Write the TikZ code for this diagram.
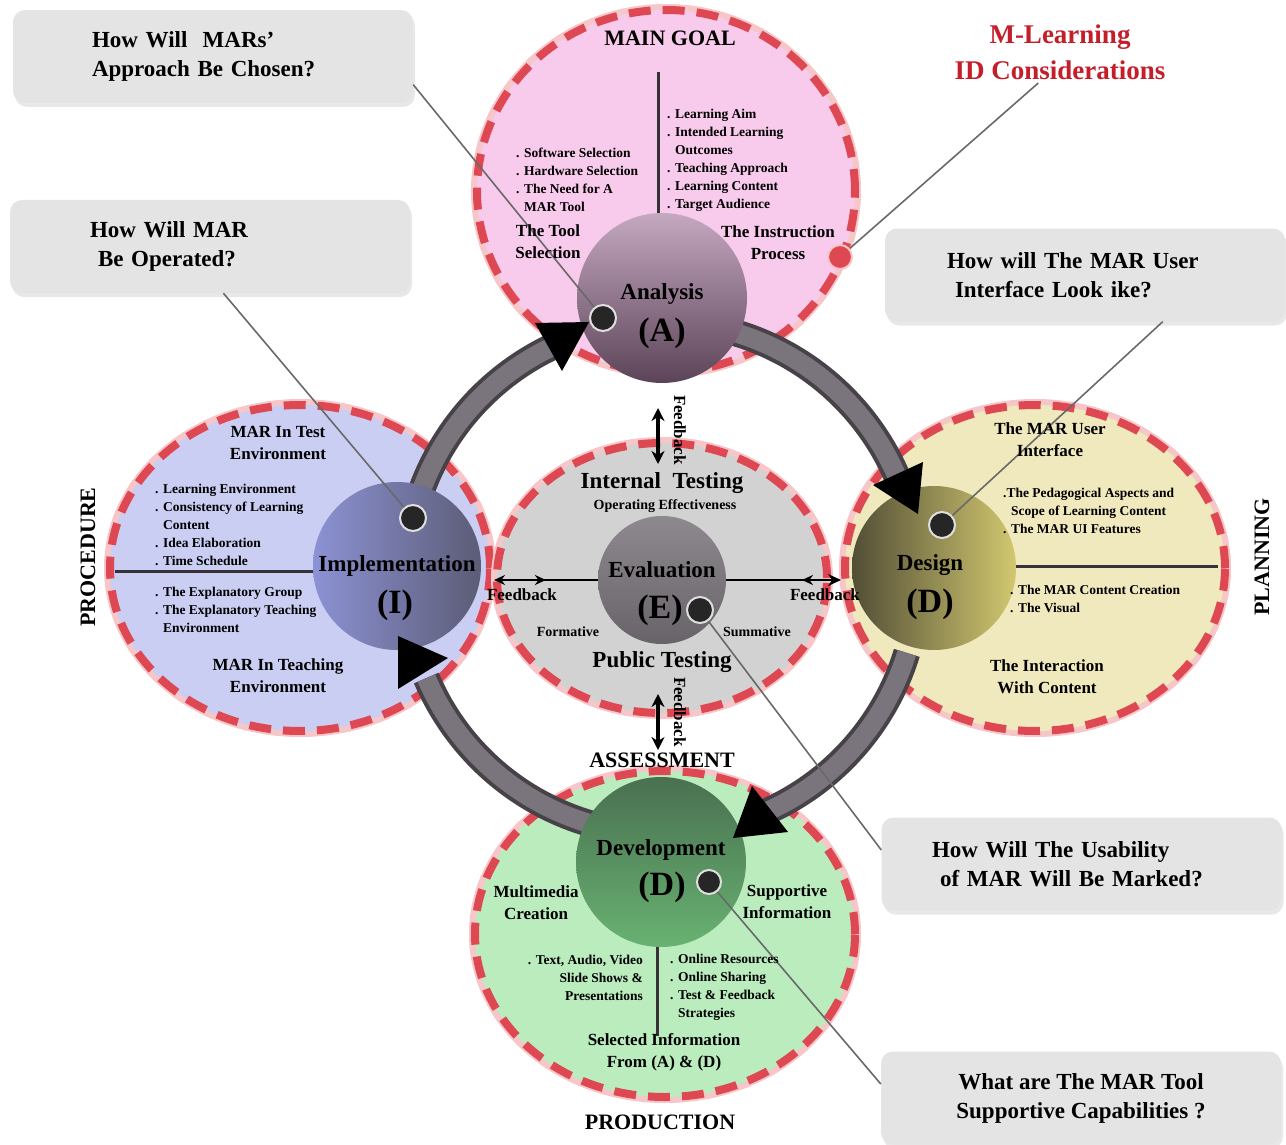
\documentclass[tikz,border=0pt]{standalone}
\usepackage{fontspec}
\setmainfont{Liberation Serif}
\usetikzlibrary{shapes.geometric,arrows.meta,shadows,decorations.markings}

\definecolor{pinkbg}{RGB}{248,202,236}
\definecolor{lilacbg}{RGB}{202,206,242}
\definecolor{sandbg}{RGB}{241,233,190}
\definecolor{mintbg}{RGB}{186,236,190}
\definecolor{greybg}{RGB}{210,210,210}
\definecolor{ringred}{RGB}{222,72,82}
\definecolor{ringpale}{RGB}{246,198,200}
\definecolor{loopgrey}{RGB}{122,116,124}
\definecolor{loopdark}{RGB}{70,66,72}
\definecolor{boxgrey}{RGB}{228,228,228}
\definecolor{titlered}{RGB}{196,30,42}
\definecolor{leadgrey}{RGB}{105,105,105}
\definecolor{divgrey}{RGB}{55,50,55}

\newcommand{\askfont}{\fontsize{23}{29}\selectfont\bfseries}
\newcommand{\headfont}{\fontsize{22}{26}\selectfont\bfseries}
\newcommand{\corefont}{\fontsize{23}{27}\selectfont\bfseries}
\newcommand{\letterfont}{\fontsize{34}{36}\selectfont\bfseries}
\newcommand{\subfont}{\fontsize{17}{22}\selectfont\bfseries}
\newcommand{\listfont}{\fontsize{13.5}{18}\selectfont\bfseries}
\newcommand{\smallfont}{\fontsize{14}{17}\selectfont\bfseries}
\newcommand{\fbfont}{\fontsize{17}{20}\selectfont\bfseries}
\newcommand{\ind}{\hspace*{8pt}}

\tikzstyle{phase} = [ellipse, inner sep=0, draw=ringred, line width=8pt, dash pattern=on 22pt off 12pt, preaction={draw=ringpale, line width=12pt, solid}]
\tikzstyle{core} = [circle, inner sep=0, minimum size=170pt]
\tikzstyle{dot} = [circle, inner sep=0, minimum size=26pt, fill=black!85, draw=white!75!gray, line width=2pt]
\tikzstyle{ask} = [rectangle, rounded corners=12pt, fill=boxgrey, minimum width=400pt, minimum height=93pt, drop shadow={opacity=.18, shadow xshift=2pt, shadow yshift=-4pt}, font=\askfont]
\tikzstyle{lead} = [draw=leadgrey, line width=1.6pt]
\tikzstyle{divider} = [draw=divgrey, line width=3pt]
\tikzstyle{loop} = [draw=loopdark, line width=27pt, postaction={draw=loopgrey, line width=19pt}]
\tikzstyle{fback} = [line width=3.5pt, {Stealth[length=13pt,width=13pt]}-{Stealth[length=13pt,width=13pt]}]
\tikzstyle{fbline} = [line width=2.5pt]
\tikzstyle{head} = [font=\headfont]
\tikzstyle{sub} = [font=\subfont, align=center]
\tikzstyle{items} = [font=\listfont, align=left, anchor=west, inner sep=0]

\begin{document}
\begin{tikzpicture}[x=1pt,y=-1pt]
	\useasboundingbox (0,0) rectangle (1286,1145);
	% phases
	\node[phase, fill=pinkbg, minimum width=378pt, minimum height=362pt] (anaOut) at (666,191) {};
	\node[phase, fill=lilacbg, minimum width=380pt, minimum height=326pt] (impOut) at (300,568) {};
	\node[phase, fill=sandbg, minimum width=380pt, minimum height=326pt] (desOut) at (1035,568) {};
	\node[phase, fill=mintbg, minimum width=380pt, minimum height=326pt] (devOut) at (665,934) {};
	\node[phase, fill=greybg, minimum width=330pt, minimum height=270pt] (evaOut) at (662,578) {};

	\draw[divider] (658,72) -- (658,216);
	\draw[divider] (115,571) -- (330,571);
	\draw[divider] (1010,566) -- (1218,566);
	\draw[divider] (657,936) -- (657,1036);

	% the cycle
	\draw[loop] (662,578) ++(-74:256) arc[start angle=-74, end angle=-20, radius=256];
	\draw[loop] (662,578) ++(17:256) arc[start angle=17, end angle=66, radius=256];
	\draw[loop] (662,578) ++(106:256) arc[start angle=106, end angle=157, radius=256];
	\draw[loop] (662,578) ++(200:256) arc[start angle=200, end angle=246, radius=256];

	\node[core, top color={rgb,255:red,196;green,168;blue,192}, bottom color={rgb,255:red,92;green,68;blue,88}] (ana) at (662,298) {};
	\node[core, minimum size=168pt, left color={rgb,255:red,140;green,146;blue,212}, right color={rgb,255:red,92;green,92;blue,118}] (imp) at (397,566) {};
	\node[core, minimum size=164pt, left color={rgb,255:red,82;green,78;blue,54}, right color={rgb,255:red,210;green,200;blue,112}] (des) at (934,568) {};
	\node[core, top color={rgb,255:red,74;green,112;blue,80}, bottom color={rgb,255:red,104;green,178;blue,114}] (dev) at (661,862) {};
	\node[core, minimum size=128pt, top color={rgb,255:red,142;green,137;blue,142}, bottom color={rgb,255:red,104;green,99;blue,104}] (eva) at (662,580) {};

	\fill (535,323) -- (589,322) -- (562,371) -- cycle;
	\fill (873,485) -- (923,462) -- (918,514) -- cycle;
	\fill (752,786) -- (733,838) -- (788,832) -- cycle;
	\fill (398,636) -- (448,658) -- (398,689) -- cycle;

	% feedback
	\coordinate (fbN1) at (658,408);
	\coordinate (fbN2) at (658,464);
	\coordinate (fbS1) at (658,694);
	\coordinate (fbS2) at (658,750);
	\draw[fback] (fbN1) -- (fbN2);
	\draw[fback] (fbS1) -- (fbS2);
	\draw[fbline, {Stealth[length=11pt,width=10pt]}-, postaction={decorate, decoration={markings, mark=at position .5 with {\arrow{Stealth[length=11pt,width=10pt]}}}}] (eva.west -| impOut.east) -- (eva.west);
	\draw[fbline, -{Stealth[length=13pt,width=12pt]}, postaction={decorate, decoration={markings, mark=at position .66 with {\arrowreversed{Stealth[length=11pt,width=10pt]}}}}] (eva.east) -- (eva.east -| desOut.west);

	% questions
	\node[ask, text width=242pt, align=left] (askA) at (213,56.5) {How Will\ \ MARs'\\Approach Be Chosen?};
	\node[ask, text width=240pt, align=left] (askI) at (210,246.5) {How Will MAR\\\ind Be Operated?};
	\node[ask, text width=276pt, align=left] (askD) at (1085,275) {How will The MAR User\\\ind Interface Look ike?};
	\node[ask, text width=299pt, align=left] (askE) at (1081.5,864) {How Will The Usability\\\ind of MAR Will Be Marked?};
	\node[ask, align=center] (askS) at (1081,1098) {What are The MAR Tool\\Supportive Capabilities ?};
	\node[font=\fontsize{27}{36}\selectfont\bfseries, text=titlered, align=center] (mlearn) at (1060,52) {M-Learning\\ID Considerations};

	\node[dot] (dotA) at (603,318) {};
	\node[dot] (dotI) at (413,518) {};
	\node[dot] (dotD) at (942,525) {};
	\node[dot] (dotE) at (700,610) {};
	\node[dot, minimum size=24pt] (dotS) at (709,882) {};
	\node[circle, inner sep=0, minimum size=24pt, fill=ringred, draw=ringpale, line width=2pt] (dotM) at (840,257) {};

	\draw[lead] (askA.-8) -- (dotA);
	\draw[lead] (askI.-74) -- (dotI);
	\draw[lead] (askD.-31) -- (dotD);
	\draw[lead] (askE.176) -- (dotE);
	\draw[lead] (askS.176) -- (dotS);
	\draw[lead] (mlearn.-125) -- (dotM);

	% outer labels
	\node[head] (goal) at (670,38) {MAIN GOAL};
	\node[head, rotate=90] (proc) at (88,557) {PROCEDURE};
	\node[head, rotate=90] (plan) at (1262,557) {PLANNING};
	\node[head] (assess) at (662,760) {ASSESSMENT};
	\node[head] (prod) at (660,1122) {PRODUCTION};

	% analysis
	\node[font=\corefont] (anaT) at (662,294) {Analysis};
	\node[font=\letterfont] (anaL) at (662,333) {(A)};
	\node[sub] (tool) at (548,242) {The Tool\\Selection};
	\node[sub] (instr) at (778,243) {The Instruction\\Process};
	\node[items] (toolList) at (516,180) {. Software Selection\\. Hardware Selection\\. The Need for A\\\ind MAR Tool};
	\node[items] (instrList) at (667,160) {. Learning Aim\\. Intended Learning\\\ind Outcomes\\. Teaching Approach\\. Learning Content\\. Target Audience};

	% implementation
	\node[font=\corefont] (impT) at (397,566) {Implementation};
	\node[font=\letterfont] (impL) at (395,605) {(I)};
	\node[sub] (testEnv) at (278,443) {MAR In Test\\Environment};
	\node[sub] (teachEnv) at (278,676) {MAR In Teaching\\Environment};
	\node[items] (testList) at (155,525) {. Learning Environment\\. Consistency of Learning\\\ind Content\\. Idea Elaboration\\. Time Schedule};
	\node[items] (teachList) at (155,610) {. The Explanatory Group\\. The Explanatory Teaching\\\ind Environment};

	% design
	\node[font=\corefont] (desT) at (930,565) {Design};
	\node[font=\letterfont] (desL) at (930,604) {(D)};
	\node[sub] (ui) at (1050,440) {The MAR User\\Interface};
	\node[sub] (inter) at (1047,677) {The Interaction\\With Content};
	\node[items] (uiList) at (1003,511) {.The Pedagogical Aspects and\\\ind Scope of Learning Content\\. The MAR UI Features};
	\node[items] (interList) at (1010,599) {. The MAR Content Creation\\. The Visual};

	% development
	\node[font=\corefont] (devT) at (661,850) {Development};
	\node[font=\letterfont] (devL) at (662,887) {(D)};
	\node[sub] (media) at (536,903) {Multimedia\\Creation};
	\node[sub] (support) at (787,902) {Supportive\\Information};
	\node[sub] (selected) at (664,1052) {Selected Information\\From (A) \& (D)};
	\node[items, align=right, anchor=east] (mediaList) at (643,978) {. Text, Audio, Video\\Slide Shows \&\\Presentations};
	\node[items] (supportList) at (670,987) {. Online Resources\\. Online Sharing\\. Test \& Feedback\\\ind Strategies};

	% evaluation
	\node[font=\corefont] (evaT) at (662,570) {Evaluation};
	\node[font=\letterfont] (evaL) at (660,610) {(E)};
	\node[font=\corefont] (intTest) at (662,483) {Internal\ \ Testing};
	\node[font=\smallfont] (opEff) at (665,506) {Operating Effectiveness};
	\node[font=\corefont] (pubTest) at (662,662) {Public Testing};
	\node[font=\smallfont] (form) at (568,632) {Formative};
	\node[font=\smallfont] (summ) at (757,632) {Summative};
	\node[font=\fbfont] (fbW) at (522,595) {Feedback};
	\node[font=\fbfont] (fbE) at (825,595) {Feedback};
	\node[font=\fbfont, rotate=-90] (fbN) at (680,430) {Feedback};
	\node[font=\fbfont, rotate=-90] (fbS) at (680,712) {Feedback};
\end{tikzpicture}
\end{document}
